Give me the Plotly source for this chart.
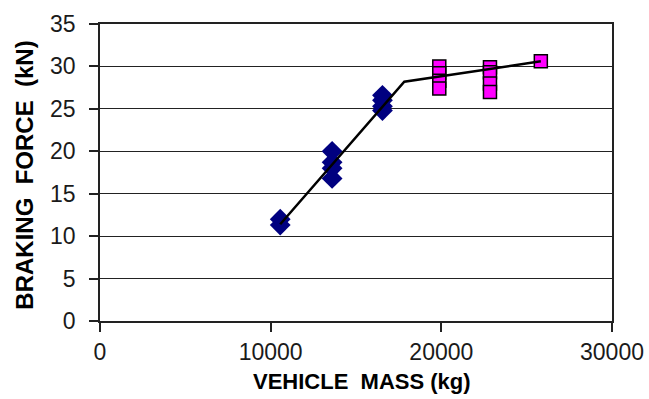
import plotly.graph_objects as go

# Data
diamond_mass = [10560, 10560, 13600, 13600, 13600, 13600, 16550, 16550, 16550, 16550]
diamond_force = [11.3, 12.0, 20.0, 18.7, 18.0, 16.8, 26.6, 26.0, 25.3, 24.8]

square_mass = [19880, 19880, 19880, 19880, 22850, 22850, 22850, 22850, 25830]
square_force = [30.0, 29.2, 28.3, 27.4, 29.9, 29.3, 28.0, 27.0, 30.6]

fit_mass = [10560, 17830, 25830]
fit_force = [11.4, 28.2, 30.6]

x_ticks = [0, 10000, 20000, 30000]
y_ticks = [0, 5, 10, 15, 20, 25, 30, 35]

x_title = "VEHICLE\u00a0\u00a0MASS\u00a0(kg)"
y_title = "BRAKING\u00a0\u00a0FORCE\u00a0\u00a0(kN)"

FONT = "Liberation Sans, Arial, sans-serif"

fig = go.Figure()
fig.add_trace(go.Scatter(
    x=diamond_mass, y=diamond_force, mode="markers",
    marker=dict(symbol="diamond", size=16, color="#000080",
                line=dict(width=0)),
    showlegend=False, hoverinfo="skip"))
fig.add_trace(go.Scatter(
    x=square_mass, y=square_force, mode="markers",
    marker=dict(symbol="square", size=13, color="#FF00FF",
                line=dict(width=1.5, color="black")),
    showlegend=False, hoverinfo="skip"))
fig.add_trace(go.Scatter(
    x=fit_mass, y=fit_force, mode="lines",
    line=dict(color="black", width=2.5),
    showlegend=False, hoverinfo="skip"))

fig.update_layout(
    width=649, height=399,
    margin=dict(l=100, r=37, t=24, b=78),
    paper_bgcolor="white", plot_bgcolor="white",
    font=dict(family=FONT, color="black"),
    xaxis=dict(range=[0, 30000], tickvals=x_ticks, ticktext=[str(v) for v in x_ticks],
               automargin=False,
               showgrid=False, zeroline=False, showline=True, mirror=True,
               linecolor="#222", linewidth=1.5, ticks="outside", ticklen=9,
               tickcolor="#222", tickwidth=1.5, ticklabelstandoff=1,
               tickfont=dict(size=23, family=FONT, color="#1a1a1a")),
    yaxis=dict(range=[0, 35], tickvals=y_ticks, automargin=False,
               showgrid=True, gridcolor="#222", gridwidth=1.2,
               zeroline=False, showline=True, mirror=True,
               linecolor="#222", linewidth=1.5, ticks="outside", ticklen=9,
               tickcolor="#222", tickwidth=1.5, ticklabelstandoff=9,
               tickfont=dict(size=23, family=FONT, color="#1a1a1a")),
    annotations=[
        dict(text="<b>" + x_title + "</b>", xref="paper", yref="paper",
             x=0.512, y=-0.205, xanchor="center", yanchor="middle",
             showarrow=False, font=dict(size=22, family=FONT, color="black")),
        dict(text="<b>" + y_title + "</b>", xref="paper", yref="paper",
             x=-0.148, y=0.49, xanchor="center", yanchor="middle", textangle=-90,
             showarrow=False, font=dict(size=24, family=FONT, color="black")),
    ],
)

fig.write_html("out.html", config={"displayModeBar": False},
               post_script="document.body.style.margin='0';")
